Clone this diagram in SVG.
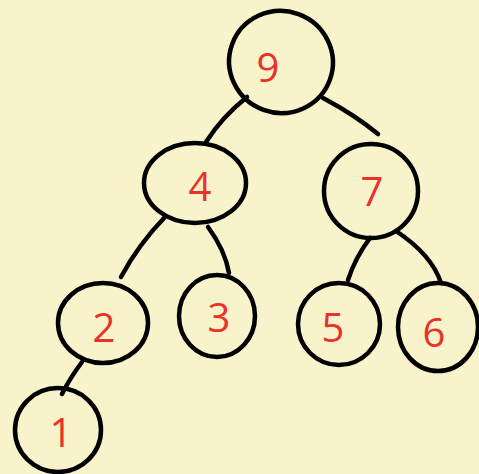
<svg xmlns="http://www.w3.org/2000/svg" width="479" height="474" viewBox="0 0 479 474">
<style>
.c{fill:none;stroke:#000;stroke-width:4.5;stroke-linecap:round}
.e{fill:none;stroke:#000;stroke-width:4.5;stroke-linecap:round}
.t{fill:#e8322a;font-family:"Open Sans","DejaVu Sans",sans-serif;font-size:40px;text-anchor:middle;dominant-baseline:central}
</style>
<rect width="479" height="474" fill="#f9f3cb"/>
<g id="connectors">
<path class="c" d="M247 97 Q222 117 206 142"/>
<path class="c" d="M323 98 Q355 115 378 134"/>
<path class="c" d="M165 217 Q138 245 121 277"/>
<path class="c" d="M208 227 Q225 250 229 273"/>
<path class="c" d="M370 238 Q355 258 348 280"/>
<path class="c" d="M396 231 Q432 255 441 283"/>
<path class="c" d="M82 362 Q70 378 62 394"/>
</g>
<g id="n9"><ellipse class="e" cx="281" cy="62" rx="52" ry="51" transform="rotate(20 281 62)"/><text class="t" x="268" y="66">9</text></g>
<g id="n4"><ellipse class="e" cx="195" cy="183" rx="51" ry="40"/><text class="t" x="200" y="185">4</text></g>
<g id="n7"><ellipse class="e" cx="371" cy="191" rx="47" ry="47"/><text class="t" x="372" y="190">7</text></g>
<g id="n2"><ellipse class="e" cx="103" cy="323" rx="45" ry="40"/><text class="t" x="104" y="326">2</text></g>
<g id="n3"><ellipse class="e" cx="217" cy="316" rx="38" ry="41"/><text class="t" x="219" y="316">3</text></g>
<g id="n5"><ellipse class="e" cx="339" cy="324" rx="41" ry="41"/><text class="t" x="333" y="326">5</text></g>
<g id="n6"><ellipse class="e" cx="438" cy="327" rx="40" ry="44"/><text class="t" x="434" y="331">6</text></g>
<g id="n1"><ellipse class="e" cx="58" cy="430" rx="43" ry="42"/><text class="t" x="61" y="431">1</text></g>
</svg>
